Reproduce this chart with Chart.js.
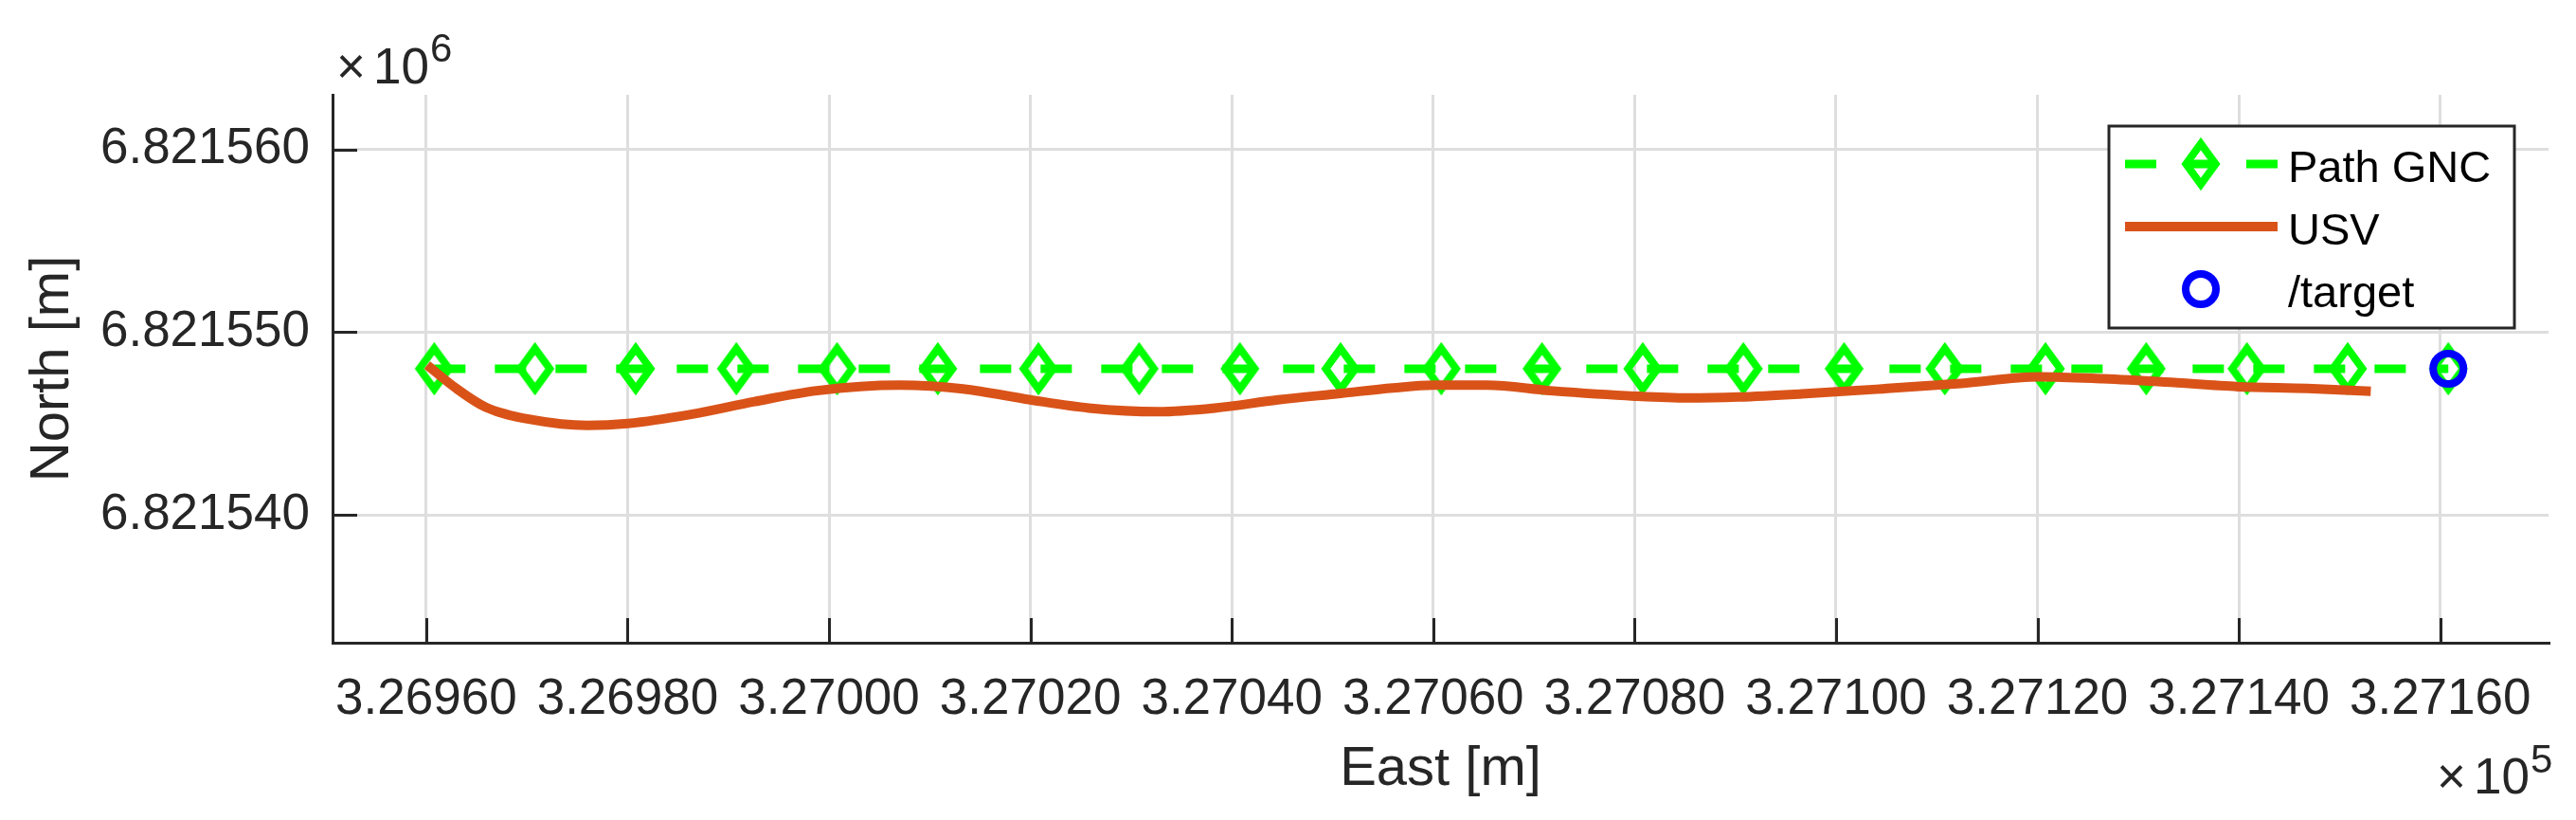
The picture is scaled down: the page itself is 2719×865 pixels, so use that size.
<!DOCTYPE html>
<html>
<head>
  <meta charset="utf-8">
  <script src="https://cdn.jsdelivr.net/npm/chart.js@4"></script>
  <style>
    html, body { margin: 0; padding: 0; background: #fff; }
  </style>
</head>
<body>
  <canvas id="chart" width="2719" height="865"></canvas>
  <script>
    // planned path (GNC waypoints), metres
    const pathEast = [326960.8, 326970.8, 326980.8, 326990.8, 327000.8, 327010.8, 327020.8,
                      327030.8, 327040.8, 327050.8, 327060.8, 327070.8, 327080.8, 327090.8,
                      327100.8, 327110.8, 327120.8, 327130.8, 327140.8, 327150.8, 327160.8];
    const pathNorth = [6821548, 6821548, 6821548, 6821548, 6821548, 6821548, 6821548,
                       6821548, 6821548, 6821548, 6821548, 6821548, 6821548, 6821548,
                       6821548, 6821548, 6821548, 6821548, 6821548, 6821548, 6821548];

    // USV track
    const usvEast = [326960.1, 326962.8, 326965.9, 326970.6, 326976.0, 326980.0, 326986.3,
                     326992.6, 326998.8, 327007.0, 327013.3, 327020.0, 327025.8, 327032.7,
                     327038.3, 327044.6, 327050.8, 327056.0, 327060.0, 327065.3, 327071.6,
                     327080.0, 327085.3, 327090.3, 327096.6, 327104.6, 327112.4, 327120.2,
                     327126.5, 327132.7, 327139.9, 327146.8, 327153.1];
    const usvNorth = [6821548.2, 6821547.0, 6821545.9, 6821545.2, 6821544.9, 6821545.0, 6821545.5,
                      6821546.2, 6821546.8, 6821547.1, 6821546.9, 6821546.3, 6821545.85, 6821545.65,
                      6821545.85, 6821546.3, 6821546.65, 6821546.95, 6821547.1, 6821547.1, 6821546.8,
                      6821546.5, 6821546.4, 6821546.45, 6821546.62, 6821546.9, 6821547.2, 6821547.56,
                      6821547.45, 6821547.27, 6821547.02, 6821546.92, 6821546.77];

    const targetEast = [327160.8];
    const targetNorth = [6821548];

    const xTicks = [326960, 326980, 327000, 327020, 327040, 327060, 327080, 327100, 327120, 327140, 327160];
    const yTicks = [6821540, 6821550, 6821560];

    const toXY = (xs, ys) => xs.map((x, i) => ({ x: x, y: ys[i] }));

    const axisColor = '#262626';
    const fontFamily = '"Liberation Sans", Arial, sans-serif';

    // matlab style diamond marker (taller than wide)
    const diamond = document.createElement('canvas');
    diamond.width = 48;
    diamond.height = 64;
    const dctx = diamond.getContext('2d');
    dctx.strokeStyle = '#00ff00';
    dctx.lineWidth = 8;
    dctx.beginPath();
    dctx.moveTo(24, 10.6);
    dctx.lineTo(39.6, 32);
    dctx.lineTo(24, 53.4);
    dctx.lineTo(8.4, 32);
    dctx.closePath();
    dctx.stroke();

    // inward ticks, exponent labels and the boxed legend
    const matlabExtras = {
      id: 'matlabExtras',
      afterDraw(chart) {
        const ctx = chart.ctx;
        const area = chart.chartArea;
        const xs = chart.scales.x, ys = chart.scales.y;
        ctx.save();
        ctx.strokeStyle = axisColor;
        ctx.lineWidth = 3;
        ctx.beginPath();
        xs.ticks.forEach(t => {
          const px = Math.round(xs.getPixelForValue(t.value)) + 0.5;
          ctx.moveTo(px, area.bottom);
          ctx.lineTo(px, area.bottom - 26);
        });
        ys.ticks.forEach(t => {
          const py = Math.round(ys.getPixelForValue(t.value)) + 0.5;
          ctx.moveTo(area.left, py);
          ctx.lineTo(area.left + 26, py);
        });
        ctx.stroke();

        // exponents
        ctx.fillStyle = axisColor;
        ctx.textBaseline = 'alphabetic';
        ctx.textAlign = 'left';
        ctx.font = '53px ' + fontFamily;
        ctx.fillText('\u00d7', 355, 88);
        ctx.fillText('10', 394, 88);
        ctx.fillText('\u00d7', 2572, 837);
        ctx.fillText('10', 2611, 837);
        ctx.font = '42px ' + fontFamily;
        ctx.fillText('6', 454, 65);
        ctx.fillText('5', 2671, 815);

        // legend
        const lx = 2226, ly = 133, lw = 428, lh = 213;
        ctx.fillStyle = '#fff';
        ctx.fillRect(lx, ly, lw, lh);
        ctx.strokeStyle = axisColor;
        ctx.lineWidth = 3;
        ctx.strokeRect(lx, ly, lw, lh);

        ctx.lineCap = 'butt';
        ctx.strokeStyle = '#00ff00';
        ctx.lineWidth = 9;
        ctx.setLineDash([33, 31]);
        ctx.beginPath();
        ctx.moveTo(2243, 173);
        ctx.lineTo(2404, 173);
        ctx.stroke();
        ctx.setLineDash([]);
        ctx.drawImage(diamond, 2323 - 24, 173 - 32);

        ctx.strokeStyle = '#d95319';
        ctx.lineWidth = 10;
        ctx.beginPath();
        ctx.moveTo(2243, 239);
        ctx.lineTo(2404, 239);
        ctx.stroke();

        ctx.strokeStyle = '#0000ff';
        ctx.lineWidth = 8;
        ctx.beginPath();
        ctx.arc(2323, 305, 16, 0, Math.PI * 2);
        ctx.stroke();

        ctx.fillStyle = '#000';
        ctx.font = '47px ' + fontFamily;
        ctx.fillText('Path GNC', 2415, 192);
        ctx.fillText('USV', 2415, 258);
        ctx.fillText('/target', 2415, 324);
        ctx.restore();
      }
    };

    new Chart(document.getElementById('chart'), {
      type: 'line',
      data: {
        datasets: [
          {
            label: 'Path GNC',
            data: toXY(pathEast, pathNorth),
            borderColor: '#00ff00',
            borderWidth: 9,
            borderDash: [33, 31],
            pointStyle: diamond,
            pointRadius: 20,
            order: 3
          },
          {
            label: 'USV',
            data: toXY(usvEast, usvNorth),
            borderColor: '#d95319',
            borderWidth: 10,
            pointRadius: 0,
            cubicInterpolationMode: 'monotone',
            order: 2
          },
          {
            label: '/target',
            data: toXY(targetEast, targetNorth),
            showLine: false,
            pointStyle: 'circle',
            pointRadius: 16,
            pointBorderWidth: 8,
            pointBorderColor: '#0000ff',
            pointBackgroundColor: 'rgba(0,0,0,0)',
            order: 1
          }
        ]
      },
      options: {
        responsive: false,
        animation: false,
        events: [],
        layout: { padding: { top: 100, right: 21, bottom: 0, left: 0 } },
        plugins: {
          legend: { display: false },
          tooltip: { enabled: false }
        },
        scales: {
          x: {
            type: 'linear',
            min: 326950.7,
            max: 327170.75,
            afterBuildTicks: s => { s.ticks = xTicks.map(v => ({ value: v })); },
            afterFit: s => { s.height = 187; },
            grid: { color: '#dedede', lineWidth: 3, drawTicks: false },
            border: { color: axisColor, width: 3 },
            ticks: {
              padding: 29,
              color: axisColor,
              maxRotation: 0,
              autoSkip: false,
              font: { family: fontFamily, size: 53 },
              callback: v => (v / 1e5).toFixed(5)
            },
            title: {
              display: true,
              text: 'East [m]',
              color: axisColor,
              font: { family: fontFamily, size: 58 },
              padding: { top: 0, bottom: 18 }
            }
          },
          y: {
            type: 'linear',
            min: 6821533,
            max: 6821563,
            afterBuildTicks: s => { s.ticks = yTicks.map(v => ({ value: v })); },
            afterFit: s => { s.width = 351; },
            grid: { color: '#dedede', lineWidth: 3, drawTicks: false },
            border: { color: axisColor, width: 3 },
            ticks: {
              padding: 24,
              color: axisColor,
              autoSkip: false,
              font: { family: fontFamily, size: 53 },
              callback: v => (v / 1e6).toFixed(6)
            },
            title: {
              display: true,
              text: 'North [m]',
              color: axisColor,
              font: { family: fontFamily, size: 58 },
              padding: { top: 21, bottom: 0 }
            }
          }
        }
      },
      plugins: [matlabExtras]
    });
  </script>
</body>
</html>
